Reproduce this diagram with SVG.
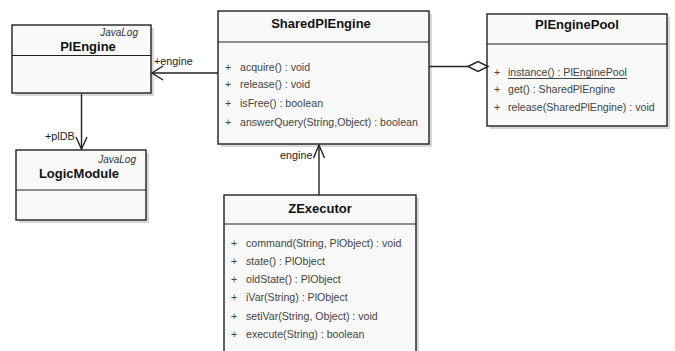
<svg xmlns="http://www.w3.org/2000/svg" width="675" height="351" viewBox="0 0 675 351">
<defs>
<style>
.box{fill:#f9f9f9;stroke:#222;stroke-width:1.4}
.sh{fill:#c8c8c8;opacity:0.7}
.div{stroke:#222;stroke-width:1.2}
.title{font-family:"Liberation Sans",Arial,sans-serif;font-size:13px;font-weight:bold;fill:#111;text-anchor:middle}
.pkg{font-family:"Liberation Sans",Arial,sans-serif;font-size:10px;font-style:italic;fill:#333;text-anchor:end}
.m{font-family:"Liberation Sans",Arial,sans-serif;font-size:10.6px;fill:#444}
.lbl{font-family:"Liberation Sans",Arial,sans-serif;font-size:10.8px;fill:#222}
.ln{stroke:#222;stroke-width:1.4;fill:none}
</style>
</defs>
<rect width="675" height="351" fill="#ffffff"/>

<g id="PlEngine">
<rect class="sh" x="15" y="28" width="139" height="68"/>
<rect class="box" x="12" y="25" width="139" height="68"/>
<line class="div" x1="12" y1="55.5" x2="151" y2="55.5"/>
<text class="pkg" x="138" y="36">JavaLog</text>
<text class="title" x="88" y="51">PlEngine</text>
</g>

<g id="LogicModule">
<rect class="sh" x="19" y="153" width="130" height="70"/>
<rect class="box" x="16" y="150" width="130" height="70"/>
<line class="div" x1="16" y1="190" x2="146" y2="190"/>
<text class="pkg" x="136" y="163">JavaLog</text>
<text class="title" x="79" y="178">LogicModule</text>
</g>

<g id="SharedPlEngine">
<rect class="sh" x="221" y="14" width="211" height="133"/>
<rect class="box" x="218" y="11" width="211" height="133"/>
<line class="div" x1="218" y1="42" x2="429" y2="42"/>
<text class="title" x="321" y="28">SharedPlEngine</text>
<text class="m" x="225" y="71">+</text><text class="m" x="240" y="71">acquire() : void</text>
<text class="m" x="225" y="88">+</text><text class="m" x="240" y="88">release() : void</text>
<text class="m" x="225" y="107">+</text><text class="m" x="240" y="107">isFree() : boolean</text>
<text class="m" x="225" y="126">+</text><text class="m" x="240" y="126">answerQuery(String,Object) : boolean</text>
</g>

<g id="PlEnginePool">
<rect class="sh" x="490" y="17" width="180" height="112"/>
<rect class="box" x="487" y="14" width="180" height="112"/>
<line class="div" x1="487" y1="44" x2="667" y2="44"/>
<text class="title" x="577" y="29">PlEnginePool</text>
<text class="m" x="494" y="76">+</text><text class="m" x="508" y="76">instance() : PlEnginePool</text>
<line x1="508" y1="78.5" x2="627" y2="78.5" stroke="#444" stroke-width="1"/>
<text class="m" x="494" y="93">+</text><text class="m" x="508" y="93">get() : SharedPlEngine</text>
<text class="m" x="494" y="111">+</text><text class="m" x="508" y="111">release(SharedPlEngine) : void</text>
</g>

<g id="ZExecutor">
<rect class="sh" x="227" y="198" width="192" height="170"/>
<rect class="box" x="224" y="195" width="192" height="170"/>
<line class="div" x1="224" y1="224" x2="416" y2="224"/>
<text class="title" x="320" y="213">ZExecutor</text>
<text class="m" x="231" y="247">+</text><text class="m" x="246" y="247">command(String, PlObject) : void</text>
<text class="m" x="231" y="265">+</text><text class="m" x="246" y="265">state() : PlObject</text>
<text class="m" x="231" y="283">+</text><text class="m" x="246" y="283">oldState() : PlObject</text>
<text class="m" x="231" y="301">+</text><text class="m" x="246" y="301">iVar(String) : PlObject</text>
<text class="m" x="231" y="320">+</text><text class="m" x="246" y="320">setiVar(String, Object) : void</text>
<text class="m" x="231" y="338">+</text><text class="m" x="246" y="338">execute(String) : boolean</text>
</g>

<g id="connectors">
<line class="ln" x1="218" y1="73" x2="152" y2="73"/>
<polyline class="ln" points="163,66 152,73 163,80"/>
<text class="lbl" x="154" y="65">+engine</text>

<line class="ln" x1="81.5" y1="94" x2="81.5" y2="149"/>
<polyline class="ln" points="76,137 81.5,149 87,137"/>
<text class="lbl" x="45" y="140">+plDB</text>

<line class="ln" x1="319" y1="195" x2="319" y2="145"/>
<polyline class="ln" points="313.5,158 319,145 324.5,158"/>
<text class="lbl" x="280" y="159">engine</text>

<line class="ln" x1="429" y1="66.5" x2="468" y2="66.5"/>
<polygon points="468,66.5 478,61.5 488,66.5 478,71.5" fill="#fff" stroke="#222" stroke-width="1.4"/>
</g>
</svg>
